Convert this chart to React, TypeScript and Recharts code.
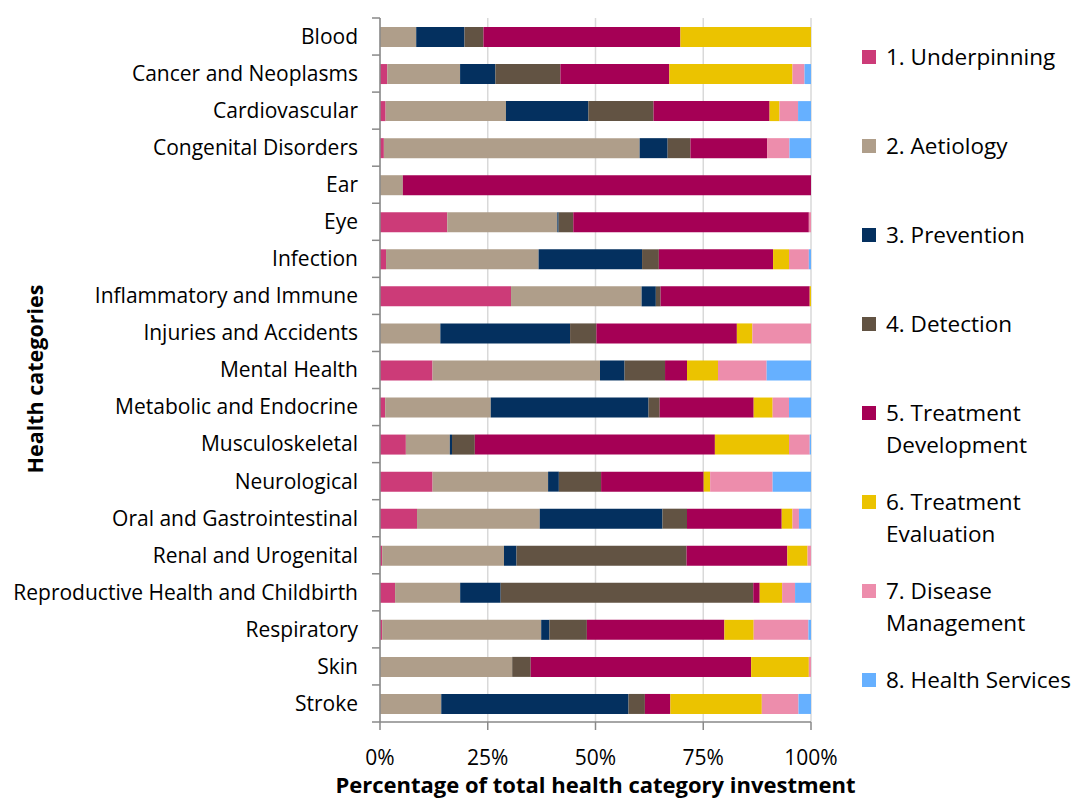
import { BarChart, Bar, XAxis, YAxis, CartesianGrid, Label } from 'recharts';

const CATEGORIES = [
  'Blood',
  'Cancer and Neoplasms',
  'Cardiovascular',
  'Congenital Disorders',
  'Ear',
  'Eye',
  'Infection',
  'Inflammatory and Immune',
  'Injuries and Accidents',
  'Mental Health',
  'Metabolic and Endocrine',
  'Musculoskeletal',
  'Neurological',
  'Oral and Gastrointestinal',
  'Renal and Urogenital',
  'Reproductive Health and Childbirth',
  'Respiratory',
  'Skin',
  'Stroke',
];

// share of each category's investment, in %
const underpinning = [0, 1.7, 1.3, 0.9, 0, 15.6, 1.4, 30.4, 0, 12.2, 1.2, 6.0, 12.2, 8.6, 0.5, 3.5, 0.5, 0, 0];
const aetiology = [8.4, 16.9, 27.9, 59.4, 5.3, 25.5, 35.4, 30.3, 14.0, 38.9, 24.5, 10.2, 26.8, 28.5, 28.3, 15.1, 36.9, 30.7, 14.2];
const prevention = [11.2, 8.2, 19.1, 6.5, 0, 0.3, 24.0, 3.3, 30.1, 5.7, 36.6, 0.5, 2.5, 28.5, 2.9, 9.4, 1.9, 0, 43.4];
const detection = [4.4, 15.1, 15.1, 5.3, 0, 3.4, 3.9, 1.1, 6.1, 9.4, 2.6, 5.3, 9.8, 5.7, 39.5, 58.6, 8.7, 4.3, 3.8];
const treatmentDevelopment = [45.7, 25.3, 26.9, 17.8, 94.7, 54.6, 26.5, 34.6, 32.6, 5.1, 21.8, 55.7, 23.8, 22.0, 23.4, 1.5, 31.9, 51.2, 5.9];
const treatmentEvaluation = [30.3, 28.6, 2.3, 0, 0, 0, 3.7, 0.3, 3.6, 7.2, 4.4, 17.2, 1.5, 2.5, 4.7, 5.2, 6.8, 13.4, 21.2];
const diseaseManagement = [0, 2.8, 4.3, 5.2, 0, 0.5, 4.6, 0, 13.6, 11.3, 3.8, 4.8, 14.5, 1.5, 0.8, 3.0, 12.7, 0.5, 8.5];
const healthServices = [0, 1.5, 3.0, 5.0, 0, 0, 0.5, 0, 0, 10.3, 5.1, 0.3, 8.9, 2.8, 0, 3.7, 0.6, 0, 2.9];

const X_TICKS = [0, 0.25, 0.5, 0.75, 1];

const SERIES = [
  { key: 'u', name: '1. Underpinning', values: underpinning, color: '#CC3B78' },
  { key: 'a', name: '2. Aetiology', values: aetiology, color: '#AF9E8A' },
  { key: 'p', name: '3. Prevention', values: prevention, color: '#04305F' },
  { key: 'd', name: '4. Detection', values: detection, color: '#625343' },
  { key: 'td', name: '5. Treatment Development', values: treatmentDevelopment, color: '#A50055' },
  { key: 'te', name: '6. Treatment Evaluation', values: treatmentEvaluation, color: '#EBC300' },
  { key: 'dm', name: '7. Disease Management', values: diseaseManagement, color: '#ED8DAC' },
  { key: 'hs', name: '8. Health Services', values: healthServices, color: '#66B0FF' },
];

const data = CATEGORIES.map((category, i) => {
  const row: Record<string, string | number> = { category };
  SERIES.forEach((s) => {
    row[s.key] = s.values[i];
  });
  return row;
});

const FONT = '"Open Sans", sans-serif';
const CHART_W = 1079;
const CHART_H = 800;
const MARGIN = { top: 18, right: 268, bottom: 0, left: 0 };
const X_AXIS_H = 78;
const Y_AXIS_W = 380;
const PLOT_H = CHART_H - MARGIN.top - MARGIN.bottom - X_AXIS_H;
const BAND = PLOT_H / CATEGORIES.length;
const AXIS_COLOR = '#898989';

// category label plus Excel-style tick marks on the band boundaries
function CategoryTick(props: any) {
  const { x, y, payload, index, visibleTicksCount } = props;
  const axisX = x + 22;
  const isLast = index === visibleTicksCount - 1;
  return (
    <g>
      <text x={x} y={y} dy="0.35em" textAnchor="end" fill="#000" fontSize={21} fontFamily={FONT}>
        {payload.value}
      </text>
      <line x1={axisX - 8} x2={axisX} y1={y - BAND / 2} y2={y - BAND / 2} stroke={AXIS_COLOR} strokeWidth={1.5} />
      {isLast && (
        <line x1={axisX - 8} x2={axisX} y1={y + BAND / 2} y2={y + BAND / 2} stroke={AXIS_COLOR} strokeWidth={1.5} />
      )}
    </g>
  );
}

function ChartLegend() {
  return (
    <div style={{ position: 'absolute', left: 862, top: 41, fontFamily: FONT, fontSize: 22.5, color: '#000' }}>
      {SERIES.map((s) => (
        <div key={s.key} style={{ display: 'flex', alignItems: 'flex-start', height: 89 }}>
          <div style={{ width: 14, height: 14, marginTop: 9, background: s.color, flexShrink: 0 }} />
          <div style={{ marginLeft: 10, width: 205, lineHeight: '32px' }}>{s.name}</div>
        </div>
      ))}
    </div>
  );
}

export default function App() {
  return (
    <div style={{ position: 'absolute', left: 0, top: 0, width: CHART_W, height: CHART_H, background: '#fff', overflow: 'hidden' }}>
      <BarChart
        width={CHART_W}
        height={CHART_H}
        data={data}
        layout="vertical"
        stackOffset="expand"
        margin={MARGIN}
        barSize={20}
      >
        <CartesianGrid horizontal={false} stroke="#D9D9D9" strokeWidth={1.5} />
        <XAxis
          type="number"
          domain={[0, 1]}
          ticks={X_TICKS}
          height={X_AXIS_H}
          tickFormatter={(v: number) => `${Math.round(v * 100)}%`}
          tick={{ fill: '#000', fontSize: 21, fontFamily: FONT }}
          tickSize={8}
          tickMargin={20}
          stroke={AXIS_COLOR}
          strokeWidth={1.5}
        >
          <Label
            value="Percentage of total health category investment"
            position="insideBottom"
            offset={7}
            style={{ fontSize: 22, fontWeight: 700, fontFamily: FONT, fill: '#000' }}
          />
        </XAxis>
        <YAxis
          type="category"
          dataKey="category"
          width={Y_AXIS_W}
          tick={<CategoryTick />}
          tickLine={false}
          tickSize={8}
          tickMargin={14}
          interval={0}
          stroke={AXIS_COLOR}
          strokeWidth={1.5}
        >
          <Label
            content={({ viewBox }: any) => {
              const cx = viewBox.x + 43;
              const cy = viewBox.y + viewBox.height / 2 + 9;
              return (
                <text
                  x={cx}
                  y={cy}
                  transform={`rotate(-90 ${cx} ${cy})`}
                  textAnchor="middle"
                  fontSize={21.5}
                  fontWeight={700}
                  fontFamily={FONT}
                  fill="#000"
                >
                  Health categories
                </text>
              );
            }}
          />
        </YAxis>
        {SERIES.map((s) => (
          <Bar key={s.key} dataKey={s.key} name={s.name} stackId="a" fill={s.color} isAnimationActive={false} />
        ))}
      </BarChart>
      <ChartLegend />
    </div>
  );
}
